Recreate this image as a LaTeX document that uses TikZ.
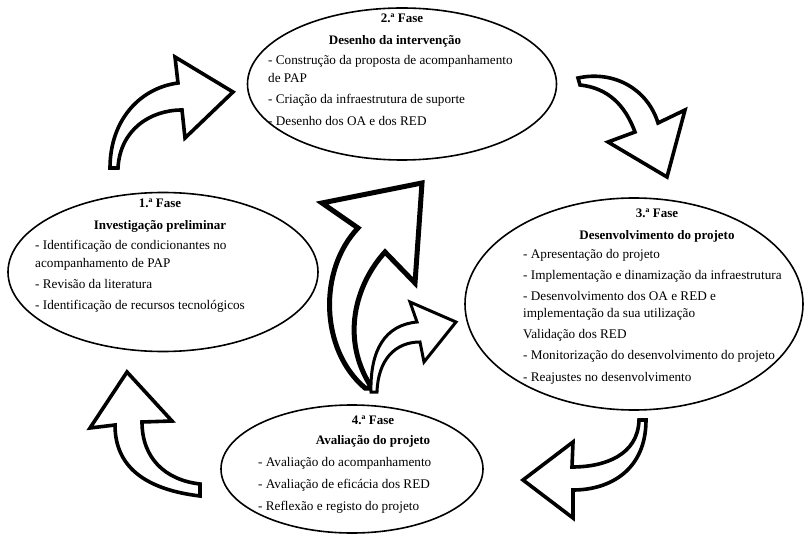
\documentclass[tikz,border=0pt]{standalone}
\usepackage{fontspec}
\setmainfont{Liberation Serif}
\usetikzlibrary{shapes.geometric}
\begin{document}
\begin{tikzpicture}[x=1pt,y=-1pt,
  phase/.style={draw, line width=1.6pt, ellipse, inner sep=0pt},
  txt/.style={anchor=west, inner sep=0pt, font=\fontsize{13.2}{15}\selectfont, text height=1.5ex, text depth=.25ex},
  ttl/.style={anchor=center, inner sep=0pt, font=\fontsize{13}{15}\selectfont\bfseries, text height=1.5ex, text depth=.25ex},
  barrow/.style={draw, fill=white, line width=3.6pt, line join=miter},
  bigarrow/.style={barrow, line width=5pt},
  smallarrow/.style={barrow, line width=3pt}]
\useasboundingbox (0,0) rectangle (805,534);

% ellipses
\node[phase, minimum width=309pt, minimum height=152pt] (f2) at (402,84) {};
\node[phase, minimum width=310pt, minimum height=159pt] (f1) at (163,272) {};
\node[phase, minimum width=338pt, minimum height=212pt] (f3) at (634,304) {};
\node[phase, minimum width=262pt, minimum height=128pt] (f4) at (352,469) {};

% phase 2
\node[ttl] (f2h) at (402,20) {2.ª Fase};
\node[ttl] (f2t) at (395,42) {Desenho da intervenção};
\node[txt] (f2a) at (268,62) {- Construção da proposta de acompanhamento};
\node[txt] (f2b) at (268,80) {de PAP};
\node[txt] (f2c) at (268,101) {- Criação da infraestrutura de suporte};
\node[txt] (f2d) at (268,123) {- Desenho dos OA e dos RED};

% phase 1
\node[ttl] (f1h) at (160,205) {1.ª Fase};
\node[ttl] (f1t) at (160,227) {Investigação preliminar};
\node[txt] (f1a) at (35,247) {- Identificação de condicionantes no};
\node[txt] (f1b) at (35,265) {acompanhamento de PAP};
\node[txt] (f1c) at (35,286) {- Revisão da literatura};
\node[txt] (f1d) at (35,307) {- Identificação de recursos tecnológicos};

% phase 3
\node[ttl] (f3h) at (657,215) {3.ª Fase};
\node[ttl] (f3t) at (657,237) {Desenvolvimento do projeto};
\node[txt] (f3a) at (523,256) {- Apresentação do projeto};
\node[txt] (f3b) at (523,277) {- Implementação e dinamização da infraestrutura};
\node[txt] (f3c) at (523,298) {- Desenvolvimento dos OA e RED e};
\node[txt] (f3d) at (523,315) {implementação da sua utilização};
\node[txt] (f3e) at (523,336) {Validação dos RED};
\node[txt] (f3f) at (523,357) {- Monitorização do desenvolvimento do projeto};
\node[txt] (f3g) at (523,379) {- Reajustes no desenvolvimento};

% phase 4
\node[ttl] (f4h) at (373,422) {4.ª Fase};
\node[ttl] (f4t) at (373,442) {Avaliação do projeto};
\node[txt] (f4a) at (258,464) {- Avaliação do acompanhamento};
\node[txt] (f4b) at (258,486) {- Avaliação de eficácia dos RED};
\node[txt] (f4c) at (258,508) {- Reflexão e registo do projeto};

% arrow 1 -> 2 (top left)
\draw[barrow] (110,168) .. controls (110,120) and (140,88) .. (178,83)
  -- (175,57) -- (233,92) -- (185,138) -- (182,110)
  .. controls (150,110) and (120,130) .. (118,168) -- cycle;

% arrow 2 -> 3 (top right)
\draw[barrow] (578,78) .. controls (615,70) and (648,90) .. (658,123)
  -- (685,110) -- (667,177) -- (608,142) -- (635,132)
  .. controls (625,105) and (608,88) .. (580,85) -- cycle;

% arrow 3 -> 4 (bottom right)
\draw[barrow] (646,420) .. controls (646,470) and (610,490) .. (573,490)
  -- (573,518) -- (523,480) -- (573,442) -- (572,467)
  .. controls (605,467) and (638,455) .. (639,420) -- cycle;

% arrow 4 -> 1 (bottom left)
\draw[barrow] (142,422) -- (172,421) -- (127,372) -- (90,428) -- (115,425)
  .. controls (115,470) and (150,490) .. (200,496) -- (200,484)
  .. controls (165,480) and (142,458) .. (142,422) -- cycle;

% central big arrow
\draw[bigarrow] (365,388) .. controls (320,350) and (318,270) .. (358,228)
  -- (322,203) -- (422,183) -- (415,283) -- (385,252)
  .. controls (355,285) and (340,340) .. (372,388) -- cycle;

% central small arrow
\draw[smallarrow] (371,392) .. controls (370,350) and (385,325) .. (417,322)
  -- (410,302) -- (456,322) -- (424,362) -- (420,342)
  .. controls (395,342) and (378,360) .. (377,392) -- cycle;
\end{tikzpicture}
\end{document}
